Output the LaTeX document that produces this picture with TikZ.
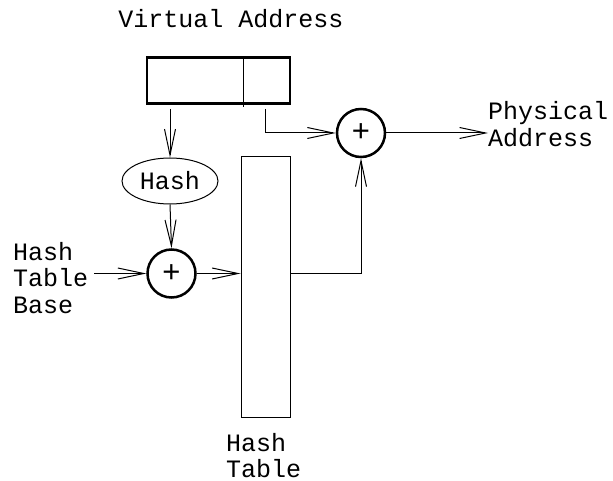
\documentclass[tikz,border=0pt]{standalone}
\usepackage{fontspec}
\setmainfont{Liberation Mono}
\usetikzlibrary{arrows.meta,shapes.geometric}
\begin{document}
\begin{tikzpicture}[x=1pt,y=-1pt,
  lbl/.style={inner sep=0pt, font=\fontsize{25}{26.5}\selectfont, align=left},
  thickbox/.style={draw, line width=2.5pt, inner sep=0pt},
  adder/.style={draw, circle, line width=2.5pt, minimum size=48pt, inner sep=0pt, font=\fontsize{31}{31}\selectfont},
  arr/.style={line width=1pt, -{Straight Barb[length=26pt,width=11pt,line width=1pt]}},
  thin/.style={line width=1pt}]
\useasboundingbox (0,0) rectangle (613,481);
% virtual address box
\node[thickbox, minimum width=143pt, minimum height=46pt] (va) at (218.5,80.5) {};
\draw[thin] (243.5,57) -- (243.5,107);
\node[lbl, anchor=base] (valbl) at (231,28) {Virtual Address};
% hash ellipse
\node[draw, thin, ellipse, minimum width=96pt, minimum height=46pt, inner sep=0pt, font=\fontsize{25}{26}\selectfont] (hash) at (170,181) {Hash};
% adders
\node[adder] (c1) at (171.5,273.5) {+};
\node[adder] (c2) at (361,133) {+};
% hash table
\node[draw, thin, minimum width=49pt, minimum height=260pt, inner sep=0pt] (table) at (265.5,287) {};
% labels
\node[lbl, anchor=west] (base) at (13,278) {Hash\\Table\\Base};
\node[lbl, anchor=west] (phys) at (488,124) {Physical\\Address};
\node[lbl, anchor=north west] (tlbl) at (226,433) {Hash\\Table};
% connectors
\coordinate (vaL) at (170,109);
\coordinate (vaR) at (265,109);
\draw[arr] (vaL) -- (hash.north);
\draw[arr] (vaR) |- (c2.west);
\draw[arr] (hash.south) -- (c1.north);
\draw[arr] ([xshift=6pt]base.east |- c1.west) -- (c1.west);
\draw[arr] (c1.east) -- (c1.east -| table.west);
\draw[arr] (table.east |- c1.east) -| (c2.south);
\draw[arr] (c2.east) -- (c2.east -| phys.west);
\end{tikzpicture}
\end{document}
